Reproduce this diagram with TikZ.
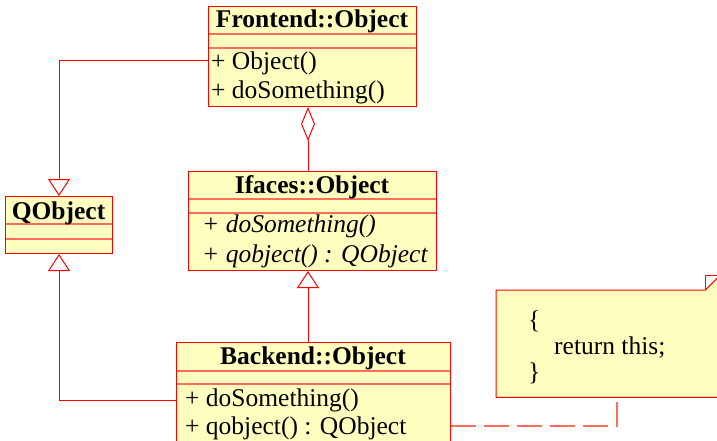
\documentclass[tikz,border=0pt]{standalone}
\usepackage{fontspec}
\setmainfont{Liberation Serif}
\usetikzlibrary{arrows.meta}
\definecolor{umlred}{RGB}{255,0,0}
\definecolor{umlsep}{RGB}{255,110,90}
\definecolor{umlfill}{RGB}{255,255,192}
\begin{document}
\begin{tikzpicture}[x=1pt,y=-1pt,
  classbox/.style={draw=umlred, fill=umlfill, line width=1pt, rectangle, inner sep=0pt, anchor=north west},
  sepline/.style={draw=umlsep, line width=1.2pt},
  ttl/.style={anchor=base, inner sep=0pt, font=\fontsize{25.5}{29}\selectfont\bfseries},
  mth/.style={anchor=base west, inner sep=0pt, font=\fontsize{25.5}{29}\selectfont},
  conn/.style={draw=umlred, line width=1pt},
  gen/.style={conn, -{Triangle[open, length=17pt, width=22pt, fill=white]}},
  agg/.style={conn, -{Diamond[open, length=34pt, width=14pt, fill=white]}},
  notelink/.style={draw=umlsep, line width=1.2pt, dash pattern=on 25pt off 8pt}
]
\useasboundingbox (0,0) rectangle (717,440);
\fill[white] (0,0) rectangle (717,440);

% Frontend::Object
\node[classbox, minimum width=208pt, minimum height=100pt] (fe) at (208,6) {};
\draw[sepline] (208.5,34) -- (415.5,34);
\draw[sepline] (208.5,48) -- (415.5,48);
\node[ttl] (fet) at (312,27) {Frontend::Object};
\node[mth] (fem1) at (211,69) {+ Object()};
\node[mth] (fem2) at (211,98) {+ doSomething()};

% QObject
\node[classbox, minimum width=107pt, minimum height=57pt] (qo) at (5,196) {};
\draw[sepline] (5.5,224) -- (111.5,224);
\draw[sepline] (5.5,239) -- (111.5,239);
\node[ttl] (qot) at (58.5,219) {QObject};

% Ifaces::Object
\node[classbox, minimum width=248pt, minimum height=99pt] (if) at (188,171) {};
\draw[sepline] (188.5,199) -- (435.5,199);
\draw[sepline] (188.5,213) -- (435.5,213);
\node[ttl] (ift) at (312,193) {Ifaces::Object};
\node[mth, font=\fontsize{25.5}{29}\selectfont\itshape] (ifm1) at (202,232) {+ doSomething()};
\node[mth, font=\fontsize{25.5}{29}\selectfont\itshape] (ifm2) at (202,262) {+ qobject() : QObject};

% Backend::Object
\node[classbox, minimum width=274pt, minimum height=120pt] (be) at (176,342) {};
\draw[sepline] (176.5,371) -- (449.5,371);
\draw[sepline] (176.5,384) -- (449.5,384);
\node[ttl] (bet) at (313,364) {Backend::Object};
\node[mth] (bem1) at (185,406) {+ doSomething()};
\node[mth] (bem2) at (185,434) {+ qobject() : QObject};

% Note
\node[inner sep=0pt, minimum width=224pt, minimum height=107pt, anchor=north west] (nt) at (496,290) {};
\draw[draw=umlred, fill=umlfill, line width=1pt]
  (nt.north west) -- ([xshift=-15pt]nt.north east) -- ([yshift=15pt]nt.north east)
  -- (nt.south east) -- (nt.south west) -- cycle;
\draw[draw=umlred, line width=1pt]
  ([xshift=-15pt]nt.north east) -- ([xshift=-15pt,yshift=15pt]nt.north east) -- ([yshift=15pt]nt.north east);
\node[mth] (ntl1) at (528,328) {\{};
\node[mth] (ntl2) at (554,354) {return this;};
\node[mth] (ntl3) at (528,380) {\}};

% connectors
\coordinate (cx) at (308,0);
\coordinate (fy) at (0,60);
\coordinate (by) at (0,400);
\coordinate (ny) at (0,426);
\coordinate (nx) at (617,0);
\draw[gen] (fe.west |- fy) -| (qo.north);
\draw[gen] (be.west |- by) -| (qo.south);
\draw[gen] (be.north -| cx) -- (if.south -| cx);
\draw[agg] (if.north -| cx) -- (fe.south -| cx);
\draw[notelink] (be.east |- ny) -| (nt.south -| nx);
\end{tikzpicture}
\end{document}
